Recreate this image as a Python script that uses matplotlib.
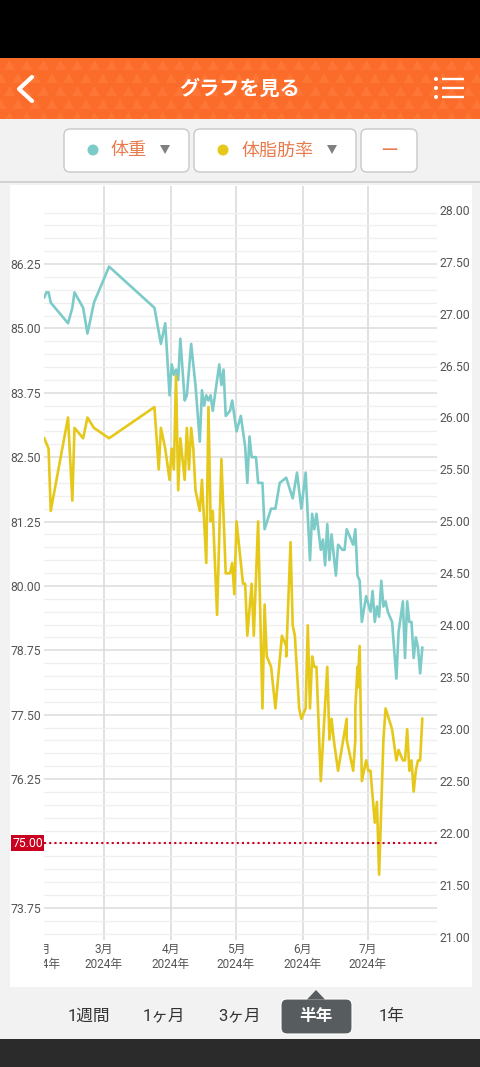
import numpy as np
from matplotlib import pyplot as plt
from matplotlib.patches import Circle, FancyBboxPatch, Polygon, Rectangle
from matplotlib.collections import PolyCollection
from matplotlib.transforms import Bbox

plt.rcParams["font.family"] = ["Roboto", "Noto Sans CJK JP", "DejaVu Sans"]

# days counted from 1 Feb 2024
weight_days = [1, 2, 3, 4, 12, 14, 15, 19, 21, 24, 31, 52, 55, 57, 59, 60, 61, 62, 63, 64,
               66, 67, 69, 71, 73, 74, 75, 76, 77, 78, 79, 82, 83, 84, 85, 87, 88, 90, 92, 94,
               95, 96, 97, 99, 100, 102, 103, 106, 108, 110, 113, 116, 118, 120, 122, 124, 125, 126, 127, 129,
               130, 131, 132, 133, 134, 136, 137, 139, 140, 141, 144, 145, 146, 147, 148, 150, 152, 153, 154, 155,
               156, 157, 158, 159, 160, 162, 164, 165, 167, 168, 169, 170, 171, 172, 173, 174, 175, 176]
weight_kg = [85.6, 85.7, 85.7, 85.5, 85.1, 85.4, 85.7, 85.4, 84.9, 85.5, 86.2, 85.4, 84.7, 85.1, 83.7, 84.3, 84.1, 84.2, 84.0, 84.8,
             83.6, 83.7, 84.7, 83.9, 82.8, 83.8, 83.5, 83.7, 83.6, 83.7, 83.4, 84.3, 83.9, 84.2, 83.3, 83.4, 83.6, 83.0, 83.3, 82.7,
             82.0, 82.9, 82.5, 82.5, 82.0, 82.0, 81.1, 81.5, 81.5, 82.0, 82.1, 81.7, 82.2, 81.5, 82.2, 80.5, 81.4, 81.1, 81.4, 80.7,
             80.9, 80.4, 81.2, 80.5, 81.0, 80.2, 80.8, 80.7, 80.7, 81.1, 80.8, 81.1, 80.2, 80.1, 79.3, 79.8, 79.5, 79.9, 79.3, 79.6,
             79.4, 80.1, 79.6, 79.7, 79.5, 79.3, 78.2, 79.1, 79.7, 78.6, 79.7, 79.3, 79.3, 78.6, 79.0, 78.8, 78.3, 78.8]

fat_days = [1, 3, 4, 12, 14, 15, 19, 21, 24, 31, 52, 54, 55, 57, 59, 60, 61, 62, 63, 64,
            66, 67, 68, 69, 70, 71, 73, 74, 76, 77, 78, 79, 81, 83, 85, 87, 88, 89, 90, 93,
            94, 95, 97, 98, 100, 102, 103, 104, 106, 108, 111, 113, 113, 115, 116, 117, 119, 120, 122, 123,
            124, 125, 126, 127, 129, 132, 133, 134, 135, 137, 141, 141, 144, 145, 145, 146, 146, 147, 148, 150,
            151, 152, 154, 155, 156, 158, 159, 162, 164, 165, 167, 168, 169, 170, 171, 172, 173, 174, 175, 176]
fat_pct = [25.8, 25.7, 25.1, 26.0, 25.2, 25.9, 25.8, 26.0, 25.9, 25.8, 26.1, 25.5, 25.9, 25.7, 25.4, 25.7, 25.5, 26.4, 25.3, 25.8,
           25.4, 25.9, 25.5, 25.9, 25.7, 25.3, 25.1, 25.4, 24.6, 26.1, 25.0, 25.1, 24.1, 25.6, 24.5, 24.5, 24.6, 24.3, 25.0, 24.4,
           24.4, 23.9, 24.4, 23.9, 25.0, 23.2, 24.2, 23.7, 23.6, 23.2, 23.9, 23.8, 23.7, 24.8, 24.0, 23.9, 23.2, 23.1, 23.2, 24.0,
           23.2, 23.7, 23.6, 23.6, 22.5, 23.6, 22.9, 23.1, 22.9, 22.6, 23.1, 22.9, 22.6, 22.9, 23.2, 23.6, 23.4, 23.8, 22.5, 22.7,
           22.6, 22.6, 22.1, 22.3, 21.6, 22.9, 23.2, 23.0, 22.7, 22.8, 22.7, 22.7, 23.0, 22.6, 22.7, 22.4, 22.6, 22.7, 22.7, 23.1]

month_days = [-0.35, 28.65, 59.65, 89.65, 120.65, 150.65]
month_labels = ["2月\n2024年", "3月\n2024年", "4月\n2024年", "5月\n2024年", "6月\n2024年", "7月\n2024年"]
kg_ticks = [73.75, 76.25, 77.50, 78.75, 80.00, 81.25, 82.50, 83.75, 85.00, 86.25]
pct_ticks = [21.0, 21.5, 22.0, 22.5, 23.0, 23.5, 24.0, 24.5, 25.0, 25.5, 26.0, 26.5, 27.0, 27.5, 28.0]
goal_kg = 75.0
period_tabs = ["1週間", "1ヶ月", "3ヶ月", "半年", "1年"]

TEAL = "#7ccbc8"
YELLOW = "#e5c81a"
RED = "#c9001f"
ORANGE_TEXT = "#e8794a"
TEXT = "#555555"

fig = plt.figure(figsize=(4.8, 10.67), dpi=100, facecolor="#f2f2f2")

# screen furniture, drawn in image pixels
ui = fig.add_axes([0, 0, 1, 1], zorder=0)
ui.set_xlim(0, 480)
ui.set_ylim(1067, 0)
ui.axis("off")

ui.add_patch(Rectangle((0, 0), 480, 58, fc="black", ec="none"))
header = Rectangle((0, 58), 480, 61, fc="#fb6c2a", ec="none")
ui.add_patch(header)
tris = []
for row, top in enumerate(np.arange(58, 119, 13)):
    for left in np.arange(-16, 490, 17):
        x0 = left + (row % 2) * 8.5
        tris.append([(x0 + 3, top + 12), (x0 + 8.5, top + 2), (x0 + 14, top + 12)])
pattern = PolyCollection(tris, facecolors="#fe7635", edgecolors="none")
ui.add_collection(pattern)
pattern.set_clip_path(header)
ui.add_patch(Rectangle((0, 1039), 480, 28, fc="#2b2b2b", ec="none"))

ui.plot([32, 19, 32], [77, 89, 101], color="white", lw=3, solid_capstyle="round")
ui.text(240, 89, "グラフを見る", color="white", fontsize=14.5, fontweight="bold", ha="center", va="center")
for yy in (79, 88, 97):
    ui.add_patch(Circle((436, yy), 2, fc="white", ec="none"))
    ui.plot([442, 464], [yy, yy], color="white", lw=1.7, solid_capstyle="butt")

ui.add_patch(Rectangle((0, 181), 480, 2, fc="#d2d2d2", ec="none"))
ui.add_patch(Rectangle((9.5, 185), 462.5, 802, fc="white", ec="none"))

for x0, x1 in ((64, 189), (194, 356), (361, 417)):
    ui.add_patch(FancyBboxPatch((x0 + 6, 135), x1 - x0 - 12, 31, boxstyle="round,pad=6",
                                fc="white", ec="#c8c8c8", lw=1))
ui.add_patch(Circle((93, 150), 5.5, fc=TEAL, ec="none"))
ui.add_patch(Circle((223, 150), 5.5, fc=YELLOW, ec="none"))
ui.text(128, 150.5, "体重", color=ORANGE_TEXT, fontsize=13, ha="center", va="center")
ui.text(277, 150.5, "体脂肪率", color=ORANGE_TEXT, fontsize=13, ha="center", va="center")
ui.text(389, 151, "ー", color=ORANGE_TEXT, fontsize=13, ha="center", va="center")
for cx in (165, 332):
    ui.add_patch(Polygon([(cx - 5, 145), (cx + 5, 145), (cx, 154)], fc="#808080", ec="none"))

ui.add_patch(FancyBboxPatch((287, 1005), 59, 23, boxstyle="round,pad=6", fc="#575c5f", ec="white", lw=0.8))
ui.add_patch(Polygon([(307, 999.5), (316, 990), (325, 999.5)], fc="#575c5f", ec="none"))
for cx, label in zip((89, 164, 240, 316, 392), period_tabs):
    selected = label == "半年"
    ui.text(cx, 1016, label, color="white" if selected else "#333333", fontsize=12,
            fontweight="bold" if selected else "normal", ha="center", va="center")

# chart
ax = fig.add_axes([44 / 480, 1 - 940 / 1067, 393 / 480, 754 / 1067], zorder=1)
ax2 = ax.twinx()
for a in (ax, ax2):
    a.patch.set_visible(False)
    for s in a.spines.values():
        s.set_visible(False)

ax.set_yticks(kg_ticks, [f"{v:.2f}" for v in kg_ticks])
ax.set_yticks(np.arange(73.25, 87.3, 0.25), minor=True)
ax.set_xticks(month_days[1:], [""] * 5)
ax.tick_params(axis="both", which="both", length=0)
ax.tick_params(axis="y", which="major", labelsize=8.8, labelcolor=TEXT, pad=2)
ax.grid(axis="y", which="minor", color="#efefef", lw=0.9)
ax.grid(axis="y", which="major", color="#dcdcdc", lw=1.1)
ax.grid(axis="x", which="major", color="#dcdcdc", lw=1.2)
ax.set_axisbelow(True)

ax.plot(weight_days, weight_kg, color=TEAL, lw=1.9)
ax2.plot(fat_days, fat_pct, color=YELLOW, lw=1.9)
ax2.plot([0.88, 182.8], [goal_kg, goal_kg], transform=ax.transData, color=RED, lw=1.5,
         linestyle=(0, (1, 1.5)), zorder=5)

ax2.set_yticks(pct_ticks, [f"{v:.2f}" for v in pct_ticks])
ax2.tick_params(axis="y", length=0, labelsize=8.8, labelcolor=TEXT, pad=2)

ax.set_xlim(0.88, 182.8)
ax2.set_xlim(0.88, 182.8)
ax.set_ylim(73.124, 87.765)
ax2.set_ylim(20.971, 28.228)

ax.text(-0.003, goal_kg, f"{goal_kg:.2f}", transform=ax.get_yaxis_transform(), color="white", fontsize=8.8,
        ha="right", va="center", clip_on=False,
        bbox=dict(boxstyle="square,pad=0.12", fc=RED, ec="none"))

clip = Bbox([[44, 0], [437, 1067]])
for day, label in zip(month_days, month_labels):
    t = fig.text(day, -17 / 754, label, transform=ax.get_xaxis_transform(), color=TEXT, fontsize=8.5,
                 ha="center", va="center", linespacing=1.25, zorder=3)
    t.set_clip_on(True)
    t.set_clip_box(clip)

plt.savefig("out.png", dpi=100)
